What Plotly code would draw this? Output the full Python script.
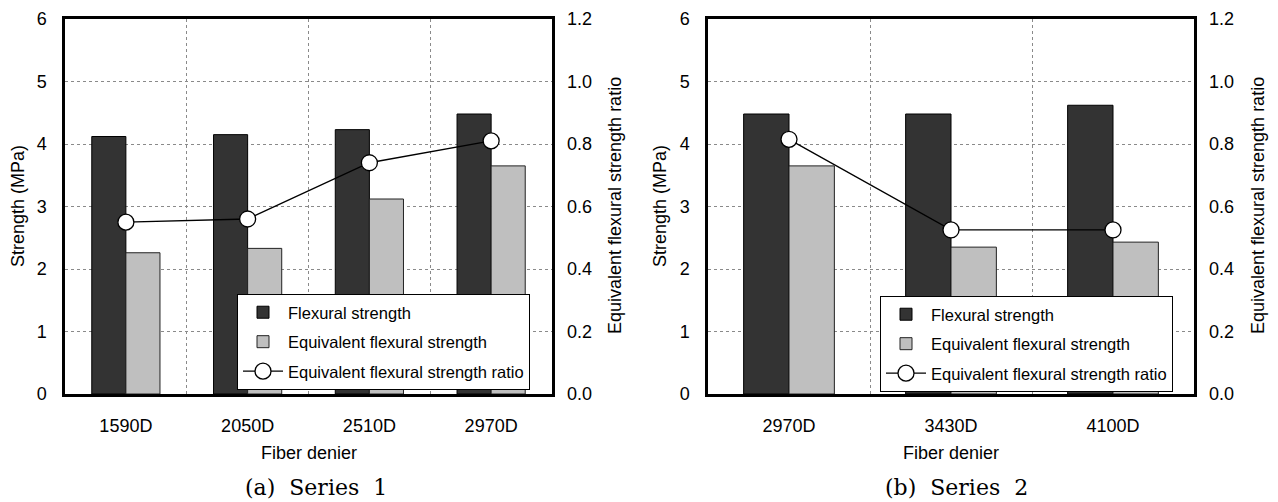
import plotly.graph_objects as go

W, H = 1278, 502

# ---- data ----
cats_a = ["1590D", "2050D", "2510D", "2970D"]
flex_a = [4.12, 4.15, 4.23, 4.48]
equiv_a = [2.26, 2.33, 3.12, 3.65]
ratio_a = [0.55, 0.56, 0.74, 0.81]

cats_b = ["2970D", "3430D", "4100D"]
flex_b = [4.48, 4.48, 4.62]
equiv_b = [3.65, 2.35, 2.43]
ratio_b = [0.815, 0.525, 0.525]

y_left_ticks = [0, 1, 2, 3, 4, 5, 6]
y_right_ticks = [0.0, 0.2, 0.4, 0.6, 0.8, 1.0, 1.2]

names = ["Flexural strength", "Equivalent flexural strength",
         "Equivalent flexural strength ratio"]

FONT = "Liberation Sans, Arial, sans-serif"
DARK = "#333333"
GREY = "#bfbfbf"


def px(x):
    return x / W


def py(y):
    return (H - y) / H


fig = go.Figure()

panels = [
    (cats_a, flex_a, equiv_a, ratio_a, "x", "y", "y2", "legend"),
    (cats_b, flex_b, equiv_b, ratio_b, "x2", "y3", "y4", "legend2"),
]
for cats, flex, equiv, ratio, xa, ya, yr, lg in panels:
    fig.add_trace(go.Bar(x=cats, y=flex, name=names[0], xaxis=xa, yaxis=ya,
                         marker=dict(color=DARK, line=dict(color="black", width=1)),
                         legend=lg, legendgroup=lg + "a"))
    fig.add_trace(go.Bar(x=cats, y=equiv, name=names[1], xaxis=xa, yaxis=ya,
                         marker=dict(color=GREY, line=dict(color="#222222", width=1)),
                         legend=lg, legendgroup=lg + "b"))
    fig.add_trace(go.Scatter(x=cats, y=ratio, name=names[2], xaxis=xa, yaxis=yr,
                             mode="lines+markers",
                             line=dict(color="black", width=1.3),
                             marker=dict(symbol="circle", size=16, color="white",
                                         line=dict(color="black", width=1.3)),
                             legend=lg, legendgroup=lg + "c"))

ydom = [py(394), py(19)]
xdomL = [px(65), px(552)]
xdomR = [px(708), px(1194)]

tickfont = dict(family=FONT, size=18, color="black")

xcommon = dict(type="category", tickson="boundaries", showgrid=True,
               gridcolor="#8a8a8a", griddash="dot", gridwidth=1,
               showline=True, linecolor="black", linewidth=2.5, mirror=True,
               ticks="", tickfont=tickfont, ticklabelstandoff=14, zeroline=False,
               automargin=False)
yleft = dict(range=[0, 6], tickvals=y_left_ticks, showgrid=True,
             gridcolor="#8a8a8a", griddash="dot", gridwidth=1,
             showline=True, linecolor="black", linewidth=2.5, mirror=True,
             ticks="", tickfont=tickfont, ticklabelstandoff=12, zeroline=False,
             automargin=False)
yright = dict(range=[0, 1.2], tickvals=y_right_ticks, tickformat=".1f",
              showgrid=False, showline=False, side="right", ticks="",
              tickfont=tickfont, ticklabelstandoff=14, zeroline=False,
              automargin=False)

legcommon = dict(bgcolor="white", bordercolor="black", borderwidth=1,
                 font=dict(family=FONT, size=16.5, color="black"),
                 xanchor="left", yanchor="top", itemwidth=40,
                 tracegroupgap=5, traceorder="grouped")

fig.update_layout(
    width=W, height=H,
    margin=dict(l=0, r=0, t=0, b=0, autoexpand=False),
    paper_bgcolor="white", plot_bgcolor="white",
    barmode="group", bargap=0.44, bargroupgap=0,
    font=dict(family=FONT, size=16, color="black"),
    xaxis=dict(domain=xdomL, anchor="y", **xcommon),
    yaxis=dict(domain=ydom, anchor="x", **yleft),
    yaxis2=dict(overlaying="y", anchor="x", **yright),
    xaxis2=dict(domain=xdomR, anchor="y3", **xcommon),
    yaxis3=dict(domain=ydom, anchor="x2", **yleft),
    yaxis4=dict(overlaying="y3", anchor="x2", **yright),
    legend=dict(x=px(237), y=py(294), **legcommon),
    legend2=dict(x=px(880), y=py(296), **legcommon),
    showlegend=True,
)

ann = []
common = dict(showarrow=False, xref="paper", yref="paper",
              xanchor="center", yanchor="middle")
for cx, capx, cap in [((65 + 552) / 2, 316, "(a)\u00a0 Series\u00a0 1"),
                      ((708 + 1194) / 2, 956, "(b)\u00a0 Series\u00a0 2")]:
    ann.append(dict(x=px(cx), y=py(453), text="Fiber denier",
                    font=dict(family=FONT, size=18), **common))
    ann.append(dict(x=px(capx), y=py(487), text=cap,
                    font=dict(family="DejaVu Serif, serif", size=22), **common))
for lx, rx in [(18, 615), (660, 1258)]:
    ann.append(dict(x=px(lx), y=py(206), text="Strength (MPa)", textangle=-90,
                    font=dict(family=FONT, size=18), **common))
    ann.append(dict(x=px(rx), y=py(206), text="Equivalent flexural strength ratio",
                    textangle=-90, font=dict(family=FONT, size=18), **common))
fig.update_layout(annotations=ann)

fig.write_html("out.html")
